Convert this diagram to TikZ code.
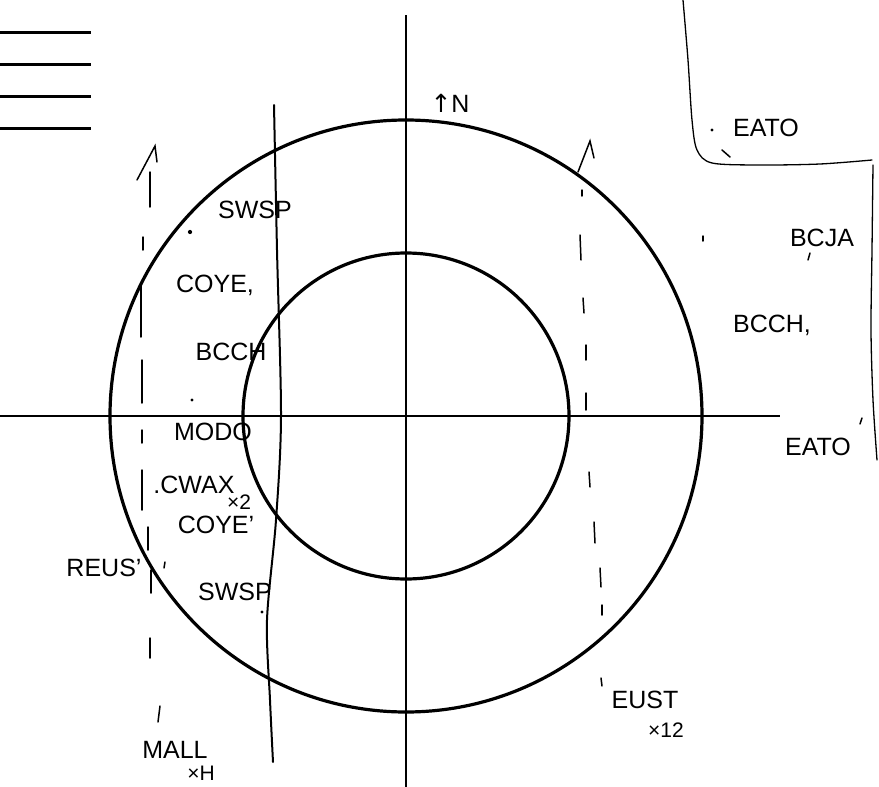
\documentclass[tikz,border=0pt]{standalone}
\usepackage{fontspec}
\setmainfont{Liberation Sans}
\newfontfamily\symfont{DejaVu Sans}
\begin{document}
\begin{tikzpicture}[x=1pt,y=-1pt,
  heavy/.style={line width=3.2pt},
  axis/.style={line width=2.4pt},
  thin/.style={line width=1.5pt, line cap=round},
  hand/.style={font=\fontsize{25}{28}\selectfont, inner sep=0pt},
  small/.style={font=\fontsize{21}{24}\selectfont, inner sep=0pt},
  dotmark/.style={fill, circle, inner sep=1.5pt}]
\useasboundingbox (0,0) rectangle (879,787);
\coordinate (c) at (406,416);
% legend lines
\foreach \yy/\nm in {32/l1,64/l2,96/l3,128/l4}{
  \coordinate (\nm a) at (0,\yy); \coordinate (\nm b) at (91,\yy);
  \draw[line width=3pt] (\nm a) -- (\nm b);}
% axes
\coordinate (vt) at (406,15); \coordinate (vb) at (406,787);
\coordinate (hl) at (0,416); \coordinate (hr) at (780,416);
\draw[axis] (vt) -- (vb);
\draw[axis] (hl) -- (hr);
% circles
\draw[heavy] (c) circle (296);
\draw[heavy] (c) circle (163);
% solid wavy line
\draw[thin, line width=2pt] plot[smooth] coordinates {(274,105) (277,250) (281,416) (276,520) (267,620) (270,700) (273,762)};
% left dashed line with arrow
\foreach \a/\b in {{(150,172)}/{(150,207)},{(143,237)}/{(143,250)},{(141,283)}/{(141,337)},{(142,360)}/{(142,403)},{(142,430)}/{(142,443)},{(142,470)}/{(142,510)},{(148,527)}/{(148,550)},{(151,570)}/{(151,593)},{(150,638)}/{(150,658)}}
  \draw[thin] \a -- \b;
\draw[thin] (137,180) -- (155,146) -- (157,162);
% right dashed line with arrow
\foreach \a/\b in {{(582,190)}/{(582,196)},{(580,235)}/{(581,260)},{(583,298)}/{(584,313)},{(586,345)}/{(586,360)},{(586,393)}/{(586,410)},{(589,472)}/{(590,487)},{(594,522)}/{(595,543)},{(600,568)}/{(601,587)},{(602,605)}/{(602,615)},{(601,678)}/{(602,686)}}
  \draw[thin] \a -- \b;
\draw[thin] (578,172) -- (590,141) -- (594,158);
% top-right boundary
\draw[thin, line width=1.3pt] plot[smooth] coordinates {(683,0) (688,60) (692,120) (697,150) (712,163) (760,165) (820,164) (872,160)};
\draw[thin, line width=1.3pt] plot[smooth] coordinates {(873,165) (872,250) (871,330) (873,400) (877,460)};
\draw[thin] (722,150) -- (730,157);
% labels
\node[hand] (north) at (450,103) {{\symfont ↑}N};
\node[dotmark, inner sep=1.2pt] (d1) at (712,130) {};
\node[hand] (eato1) at (766,128) {EATO};
\node[hand] (bcja) at (822,238) {BCJA};
\node[hand] (bcch1) at (772,325) {BCCH,};
\node[hand] (eato2) at (818,447) {EATO};
\node[hand] (swsp1) at (255,210) {SWSP};
\node[dotmark] (d2) at (190,232) {};
\node[hand] (coye1) at (215,285) {COYE,};
\node[hand] (bcch2) at (231,352) {BCCH};
\node[dotmark, inner sep=1.2pt] (d3) at (192,400) {};
\node[hand] (modo) at (213,432) {MODO};
\node[hand] (cwax) at (194,485) {.CWAX};
\node[small] (x2) at (239,502) {×2};
\node[hand] (coye2) at (216,525) {COYE'};
\node[hand] (reus) at (104,568) {REUS'};
\node[hand] (swsp2) at (235,592) {SWSP};
\node[dotmark, inner sep=1.2pt] (d4) at (262,612) {};
\node[hand] (mall) at (175,750) {MALL};
\node[small] (xh) at (201,773) {×H};
\node[hand] (eust) at (645,700) {EUST};
\node[small] (x12) at (666,730) {×12};
% small marks
\draw[thin] (810,253) -- (808,260);
\draw[thin] (703,236) -- (703,241);
\draw[thin] (862,418) -- (860,424);
\draw[thin] (165,562) -- (164,568);
\draw[thin] (160,706) -- (158,722);
\end{tikzpicture}
\end{document}
